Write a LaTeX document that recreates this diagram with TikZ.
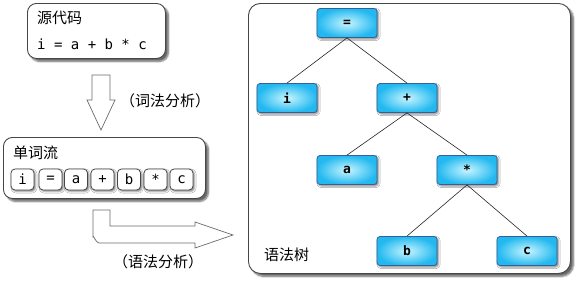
\documentclass[tikz,border=0pt]{standalone}
\usepackage{fontspec}
\setmonofont{DejaVu Sans Mono}
\newfontfamily\cjk{Noto Sans CJK SC}
\usetikzlibrary{shadows.blur,positioning}
\definecolor{nodelight}{RGB}{200,245,255}
\definecolor{nodedark}{RGB}{35,185,240}
\definecolor{nodeborder}{RGB}{55,95,150}
\definecolor{boxline}{RGB}{70,70,70}
\tikzset{
  panel/.style={draw=boxline, line width=0.9pt, fill=white, rounded corners=9pt,
    blur shadow={shadow xshift=3pt, shadow yshift=-3pt, shadow blur steps=6, shadow opacity=60}},
  token/.style={draw=boxline, line width=0.8pt, fill=white, rounded corners=4pt,
    minimum width=23pt, minimum height=21pt, inner sep=0pt, font=\ttfamily\fontsize{14}{14}\selectfont,
    blur shadow={shadow xshift=1.5pt, shadow yshift=-1.5pt, shadow blur steps=3, shadow opacity=50}},
  treenode/.style={draw=nodeborder, line width=0.8pt, rounded corners=3pt,
    inner color=nodelight, outer color=nodedark,
    minimum width=60pt, minimum height=29pt, inner sep=0pt,
    font=\ttfamily\bfseries\fontsize{13}{13}\selectfont,
    blur shadow={shadow xshift=1.5pt, shadow yshift=-1.5pt, shadow blur steps=3, shadow opacity=50}},
  blockarrow/.style={draw=boxline!80, line width=0.7pt, fill=white},
  edge/.style={draw=black!85, line width=0.6pt},
  cjktext/.style={font=\cjk\fontsize{15}{15}\selectfont, inner sep=0pt, anchor=west},
}
\begin{document}
\begin{tikzpicture}[x=1pt,y=-1pt]
\useasboundingbox (0,0) rectangle (578,282);
% source box
\node[panel, minimum width=138pt, minimum height=55pt, anchor=north west] (src) at (27,3) {};
\node[cjktext] (srct) at (37,18) {源代码};
\node[anchor=west, inner sep=0pt, font=\ttfamily\fontsize{14}{14}\selectfont] (expr) at (37,44) {i = a + b * c};
% down arrow
\draw[blockarrow] (92,75) -- (110,75) -- (110,100) -- (115,100) -- (101,130) -- (87,100) -- (92,100) -- cycle;
\node[cjktext] (lex) at (120,101) {（词法分析）};
% token stream box
\node[panel, minimum width=202pt, minimum height=61pt, anchor=north west] (tok) at (3,137) {};
\node[cjktext] (tokt) at (13,153) {单词流};
\node[token] (t1) at (22.5,179.5) {i};
\node[token] (t2) at (50.5,179.5) {=};
\node[token] (t3) at (76,179.5) {a};
\node[token] (t4) at (102.5,179.5) {+};
\node[token] (t5) at (129,179.5) {b};
\node[token] (t6) at (155.5,179.5) {*};
\node[token] (t7) at (181.5,179.5) {c};
% bent arrow
\draw[blockarrow] (93,210) -- (110,210) -- (110,226) -- (195,226) -- (195,222) -- (233,235) -- (195,248) -- (195,243)
  -- (99,243) to[out=180,in=90] (93,237) -- cycle;
\node[cjktext] (syn) at (113,262) {（语法分析）};
% tree panel
\node[panel, rounded corners=12pt, minimum width=322pt, minimum height=270pt, anchor=north west] (tree) at (248,3) {};
\node[cjktext] (treet) at (264,255) {语法树};
\node[treenode] (eq) at (347,23) {=};
\node[treenode] (ni) at (287,98) {i};
\node[treenode] (plus) at (407,98) {+};
\node[treenode] (na) at (347,170) {a};
\node[treenode] (star) at (467,170) {*};
\node[treenode] (nb) at (407,251) {b};
\node[treenode] (nc) at (527,251) {c};
\draw[edge] (eq.south) -- (ni.north);
\draw[edge] (eq.south) -- (plus.north);
\draw[edge] (plus.south) -- (na.north);
\draw[edge] (plus.south) -- (star.north);
\draw[edge] (star.south) -- (nb.north);
\draw[edge] (star.south) -- (nc.north);
\end{tikzpicture}
\end{document}
